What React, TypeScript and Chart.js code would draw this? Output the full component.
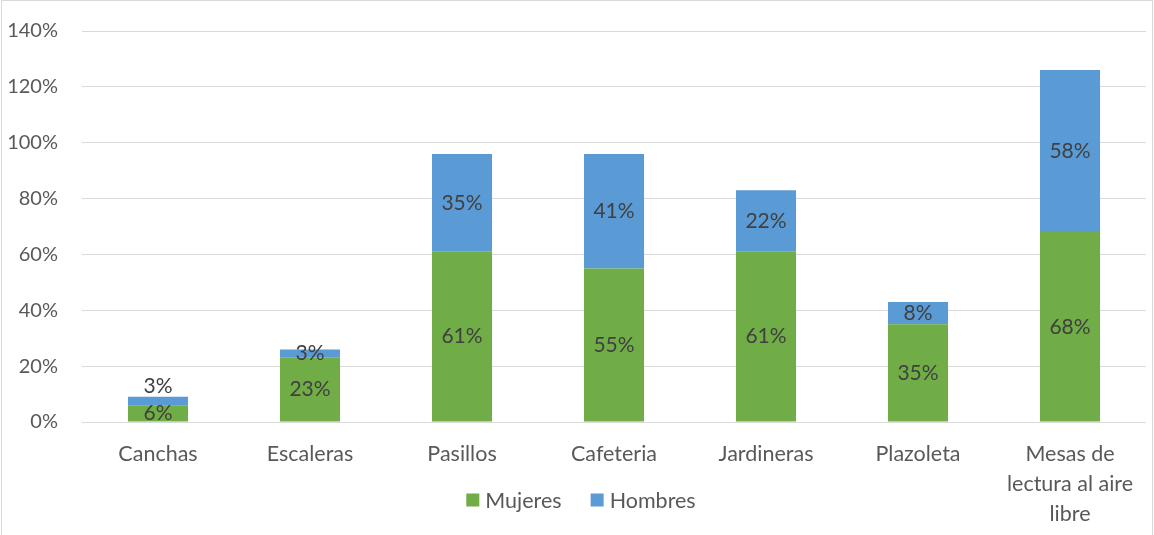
import React, { useEffect, useRef } from "react";
import { Chart, registerables } from "chart.js";

Chart.register(...registerables);

const categories: (string | string[])[] = [
  "Canchas",
  "Escaleras",
  "Pasillos",
  "Cafeteria",
  "Jardineras",
  "Plazoleta",
  ["Mesas de", "lectura al aire", "libre"],
];
const mujeres = [6, 23, 61, 55, 61, 35, 68];
const hombres = [3, 3, 35, 41, 22, 8, 58];
const yTicks = [0, 20, 40, 60, 80, 100, 120, 140];

const GREEN = "#70AD47";
const BLUE = "#5B9BD5";
const FONT = "Lato, 'Noto Sans', sans-serif";

const labelPlugin = {
  id: "segLabels",
  afterDatasetsDraw(chart: any) {
    const ctx = chart.ctx;
    ctx.save();
    ctx.font = `21px ${FONT}`;
    ctx.fillStyle = "#404040";
    ctx.textAlign = "center";
    ctx.textBaseline = "middle";
    const m0 = chart.getDatasetMeta(0);
    chart.data.datasets.forEach((ds: any, di: number) => {
      const meta = chart.getDatasetMeta(di);
      meta.data.forEach((bar: any, i: number) => {
        const v = ds.data[i];
        let cy = (bar.y + bar.base) / 2;
        if (di === 1) {
          const low = m0.data[i];
          const lowH = Math.abs(low.base - low.y);
          if (lowH < 24) cy = bar.y - 11;
        }
        ctx.fillText(`${v}%`, bar.x, cy);
      });
    });
    ctx.restore();
  },
};

const legendPlugin = {
  id: "customLegend",
  afterDraw(chart: any) {
    const ctx = chart.ctx;
    ctx.save();
    ctx.font = `21.5px ${FONT}`;
    ctx.textBaseline = "middle";
    const items = chart.data.datasets.map((d: any) => ({
      label: d.label,
      color: d.backgroundColor,
    }));
    const box = 13;
    const gapBoxText = 6;
    const gapItems = 29;
    const widths = items.map(
      (it: any) => box + gapBoxText + ctx.measureText(it.label).width
    );
    const total =
      widths.reduce((a: number, b: number) => a + b, 0) +
      gapItems * (items.length - 1);
    let x = 581 - total / 2;
    const cy = 500;
    items.forEach((it: any, i: number) => {
      ctx.fillStyle = it.color;
      ctx.fillRect(x, cy - box / 2, box, box);
      ctx.fillStyle = "#595959";
      ctx.textAlign = "left";
      ctx.fillText(it.label, x + box + gapBoxText, cy + 1);
      x += widths[i] + gapItems;
    });
    ctx.restore();
  },
};

export default function App() {
  const ref = useRef<HTMLCanvasElement | null>(null);
  useEffect(() => {
    if (!ref.current) return;
    const chart = new Chart(ref.current, {
      type: "bar",
      data: {
        labels: categories,
        datasets: [
          {
            label: "Mujeres",
            data: mujeres,
            backgroundColor: GREEN,
            barPercentage: 0.395,
            categoryPercentage: 1,
          },
          {
            label: "Hombres",
            data: hombres,
            backgroundColor: BLUE,
            barPercentage: 0.395,
            categoryPercentage: 1,
          },
        ],
      },
      options: {
        animation: false,
        responsive: false,
        maintainAspectRatio: false,
        layout: { padding: { left: 0, right: 8, top: 31, bottom: 0 } },
        plugins: {
          legend: { display: false },
          tooltip: { enabled: false },
        },
        scales: {
          x: {
            stacked: true,
            grid: { display: false, drawTicks: false },
            border: { display: false },
            ticks: {
              color: "#595959",
              font: { family: FONT, size: 21.5, lineHeight: 1.4 },
              padding: 17,
              maxRotation: 0,
              autoSkip: false,
            },
            afterFit(scale: any) {
              scale.height = 113;
            },
          },
          y: {
            stacked: true,
            min: 0,
            max: 140,
            afterBuildTicks(scale: any) {
              scale.ticks = yTicks.map((v) => ({ value: v }));
            },
            grid: { color: "#D9D9D9", lineWidth: 1, drawTicks: false },
            border: { display: false },
            ticks: {
              color: "#595959",
              font: { family: FONT, size: 20, lineHeight: 0.5 },
              padding: 24,
              callback: (v: any) => `${v}%`,
            },
            afterFit(scale: any) {
              scale.width = 82;
            },
          },
        },
      },
      plugins: [labelPlugin, legendPlugin],
    });
    return () => chart.destroy();
  }, []);
  return (
    <div
      style={{
        position: "fixed",
        left: 0,
        top: 0,
        width: 1154,
        height: 535,
        background: "#fff",
      }}
    >
      <canvas
        ref={ref}
        width={1154}
        height={535}
        style={{ position: "absolute", left: 0, top: 0, width: 1154, height: 535 }}
      />
      <div
        style={{
          position: "absolute",
          left: 1,
          top: 0,
          width: 1152,
          height: 540,
          boxSizing: "border-box",
          border: "1px solid #D9D9D9",
          pointerEvents: "none",
        }}
      />
    </div>
  );
}
